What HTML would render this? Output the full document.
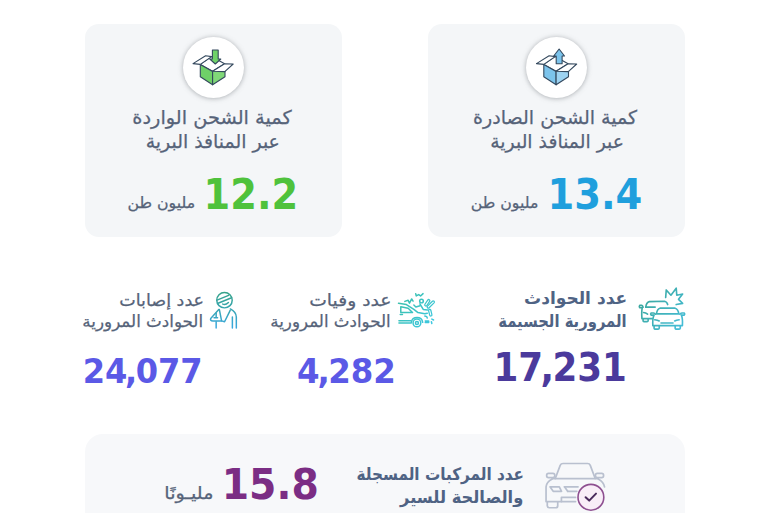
<!DOCTYPE html>
<html lang="ar" dir="ltr">
<head>
<meta charset="utf-8">
<title>إحصاءات النقل</title>
<style>
html,body{margin:0;padding:0;background:#fff;}
body{width:770px;height:513px;position:relative;overflow:hidden;font-family:"Liberation Sans","DejaVu Sans",sans-serif;}
.card{position:absolute;background:#f4f6f8;border-radius:14px;}
.c1{left:85px;top:24px;width:256.5px;height:213px;}
.c2{left:428px;top:24px;width:257px;height:213px;}
.c3{left:84.5px;top:433.5px;width:600.5px;height:120px;border-radius:18px;background:#f7f8fa;}
.circ{position:absolute;width:61px;height:61px;border-radius:50%;background:#fff;box-shadow:0 .5px 5px rgba(100,105,112,.52);}
.w4{-webkit-text-stroke:.25px currentColor;}
.t{position:absolute;left:0;top:0;white-space:nowrap;direction:rtl;transform-origin:0 0;margin:0;}
svg{position:absolute;overflow:visible;}
</style>
</head>
<body>
<div class="card c1"></div>
<div class="card c2"></div>
<div class="card c3"></div>
<div class="circ" style="left:182.6px;top:37px"></div>
<div class="circ" style="left:526px;top:37px"></div>
<svg width="770" height="513" viewBox="0 0 770 513" style="left:0;top:0">
<defs>

<linearGradient id="teal1" gradientUnits="userSpaceOnUse" x1="80" y1="100" x2="470" y2="420"><stop offset="0" stop-color="#3aa496"/><stop offset="1" stop-color="#45bfdc"/></linearGradient>
<linearGradient id="teal2" gradientUnits="userSpaceOnUse" x1="40" y1="80" x2="440" y2="440"><stop offset="0" stop-color="#3bbfa6"/><stop offset="1" stop-color="#3cc8e4"/></linearGradient>
<linearGradient id="teal3" gradientUnits="userSpaceOnUse" x1="245" y1="60" x2="245" y2="470"><stop offset="0" stop-color="#36a389"/><stop offset="1" stop-color="#3aa8e0"/></linearGradient>
</defs>
<g>
  <!-- inner of box -->
  <path d="M200.3 64.4 L211.6 56.6 L224.6 63.8 L212.6 71.2 Z" fill="#fff" stroke="#34495e" stroke-width="1.1" stroke-linejoin="round"/>
  <!-- left face -->
  <path d="M200.3 64.6 L212.6 71.4 L212.6 84.8 L200.3 76.8 Z" fill="#6fd068" stroke="#34495e" stroke-width="1.1" stroke-linejoin="round"/>
  <!-- right face -->
  <path d="M212.6 71.4 L225 64.6 L225 76.8 L212.6 84.8 Z" fill="#80d878" stroke="#34495e" stroke-width="1.1" stroke-linejoin="round"/>
  <!-- left flap -->
  <path d="M200.3 64.4 L193 63.6 L205.6 55.8 L211.6 56.6 Z" fill="#fff" stroke="#34495e" stroke-width="1.1" stroke-linejoin="round"/>
  <!-- right flap -->
  <path d="M212.6 71.2 L224.6 63.8 L233.2 64 L224.8 71.6 Z" fill="#fff" stroke="#34495e" stroke-width="1.1" stroke-linejoin="round"/>

  <path d="M212.4 50 H218.2 V59 H220.8 L215.3 64 L209.8 59 H212.4 Z" fill="#6fd268" stroke="#34495e" stroke-width="1.1" stroke-linejoin="round"/>
</g>
<g transform="translate(343.5 0)">
  <!-- inner of box -->
  <path d="M200.3 64.4 L211.6 56.6 L224.6 63.8 L212.6 71.2 Z" fill="#fff" stroke="#34495e" stroke-width="1.1" stroke-linejoin="round"/>
  <!-- left face -->
  <path d="M200.3 64.6 L212.6 71.4 L212.6 84.8 L200.3 76.8 Z" fill="#7cc4ec" stroke="#34495e" stroke-width="1.1" stroke-linejoin="round"/>
  <!-- right face -->
  <path d="M212.6 71.4 L225 64.6 L225 76.8 L212.6 84.8 Z" fill="#9dd3f2" stroke="#34495e" stroke-width="1.1" stroke-linejoin="round"/>
  <!-- left flap -->
  <path d="M200.3 64.4 L193 63.6 L205.6 55.8 L211.6 56.6 Z" fill="#fff" stroke="#34495e" stroke-width="1.1" stroke-linejoin="round"/>
  <!-- right flap -->
  <path d="M212.6 71.2 L224.6 63.8 L233.2 64 L224.8 71.6 Z" fill="#fff" stroke="#34495e" stroke-width="1.1" stroke-linejoin="round"/>

  <path d="M212.7 63.8 V56 H210.2 L215.6 49 L221 56 H218.6 V63.8 Z" fill="#7cc4ec" stroke="#34495e" stroke-width="1.1" stroke-linejoin="round"/>
</g>

<!-- crash cars icon -->
<g transform="translate(630 280) scale(0.11696)" fill="none" stroke="url(#teal1)" stroke-width="14" stroke-linecap="round" stroke-linejoin="round">
  <path d="M305 150 L310 85 L350 130 L395 70 L400 130 L450 120 L415 165 L450 200 L395 210"/>
  <path d="M135 232 Q140 190 165 185 L295 182 Q315 185 322 210"/>
  <path d="M135 232 H215"/>
  <path d="M105 236 H82 Q76 225 84 216 H100 Q108 218 112 232"/>
  <path d="M104 240 Q98 270 102 330 H190"/>
  <path d="M112 332 V350 Q114 356 122 356 H146 Q154 356 155 350 V332"/>
  <path d="M116 278 Q135 280 150 292"/>
  <path d="M226 290 Q232 246 256 241 L386 241 Q410 246 418 290 Z"/>
  <path d="M204 300 H180 Q172 290 180 282 H200 Q212 284 218 292"/>
  <path d="M440 300 H464 Q472 290 464 282 H444 Q432 284 426 292"/>
  <path d="M204 302 Q192 330 195 390 H448 Q452 330 440 302"/>
  <path d="M206 392 V412 Q208 420 216 420 H240 Q249 420 250 412 V392"/>
  <path d="M386 392 V412 Q388 420 396 420 H420 Q429 420 430 412 V392"/>
  <path d="M265 368 H368"/>
  <path d="M212 340 Q235 342 250 350"/>
  <path d="M420 340 Q397 342 382 350"/>
</g>
<!-- pedestrian hit icon -->
<g transform="translate(395 287) scale(0.0877)" fill="none" stroke="url(#teal2)" stroke-width="17" stroke-linecap="round" stroke-linejoin="round">
  <path d="M40 186 L130 200 L215 255 L262 292 L340 306 L368 300"/>
  <path d="M66 226 V290 H200 L150 242 Z"/>
  <path d="M60 313 H85"/>
  <path d="M45 385 H178"/>
  <path d="M45 410 H185"/>
  <path d="M186 402 A66 66 0 0 1 316 402"/>
  <circle cx="250" cy="410" r="44"/>
  <circle cx="250" cy="410" r="17"/>
  <path d="M340 330 L362 338 L368 354"/>
  <path d="M345 388 H384 V405 H345"/>
  <circle cx="302" cy="160" r="21"/>
  <path d="M215 205 L238 228 L286 214"/>
  <path d="M284 192 L322 256 L372 262"/>
  <g stroke-width="40"><path d="M352 204 L384 156"/><path d="M380 228 L436 172"/><path d="M396 268 L408 318"/></g>
  <g stroke="#fff" stroke-width="12"><path d="M352 204 L384 156"/><path d="M380 228 L436 172"/><path d="M396 268 L408 318"/></g>
  <path d="M112 164 L150 152 L165 184 L190 136 L206 162"/>
  <path d="M236 76 L242 102 L270 86 L292 102 L320 76"/>
  <path d="M420 366 L440 376"/>
  <path d="M415 396 L420 416"/>
</g>
<!-- injured person icon -->
<g transform="translate(203 287) scale(0.0877)" fill="none" stroke="url(#teal3)" stroke-width="17" stroke-linecap="round" stroke-linejoin="round">
  <circle cx="245" cy="150" r="88"/>
  <path d="M160 150 L292 95"/>
  <path d="M172 186 L326 122"/>
  <path d="M225 195 Q258 208 290 176"/>
  <path d="M180 256 L88 358 Q78 386 112 388 L212 388"/>
  <path d="M186 256 L212 386 L246 396 L310 266"/>
  <path d="M150 300 V346"/>
  <path d="M126 350 H166"/>
  <path d="M150 396 V468"/>
  <path d="M312 250 Q376 282 380 342 V468"/>
  <path d="M335 342 V468"/>
</g>
<!-- registered car icon -->
<g transform="translate(535 450) scale(0.12285)" fill="none" stroke="#b9c0cf" stroke-width="14" stroke-linecap="round" stroke-linejoin="round">
  <path d="M165 232 L205 125 Q212 110 228 110 H428 Q444 110 450 125 L490 232"/>
  <path d="M140 233 H515"/>
  <rect x="95" y="190" width="66" height="34" rx="15"/>
  <rect x="492" y="190" width="66" height="34" rx="15"/>
  <path d="M140 236 Q92 262 90 300 V420 H330"/>
  <path d="M515 236 Q560 262 566 300"/>
  <path d="M122 300 H198 L216 336 H148 Z"/>
  <path d="M240 300 H350"/>
  <path d="M266 336 H340"/>
  <path d="M240 300 L266 336"/>
  <path d="M215 420 V386 H330"/>
  <path d="M100 424 V455 Q102 470 116 470 H170 Q184 470 185 455 V424"/>
</g>
<circle cx="590.9" cy="497.3" r="12.9" fill="#f9eef8" stroke="#8e4f90" stroke-width="1.6"/>
<path d="M585.6 497.2 L589.2 500.6 L596 493.6" fill="none" stroke="#4a2a5c" stroke-width="2" stroke-linecap="round" stroke-linejoin="round"/>
</svg>

<div class="t w4" id="t1a" style="font:400 19px/19px 'DejaVu Sans', sans-serif;color:#566379;transform:translate(132.33px,108.10px) scaleX(1.0177)">كمية الشحن الواردة</div>
<div class="t w4" id="t1b" style="font:400 19px/19px 'DejaVu Sans', sans-serif;color:#566379;transform:translate(145.63px,132.00px) scaleX(0.9943)">عبر المنافذ البرية</div>
<div class="t w4" id="t2a" style="font:400 19px/19px 'DejaVu Sans', sans-serif;color:#566379;transform:translate(473.05px,108.10px) scaleX(1.0025)">كمية الشحن الصادرة</div>
<div class="t w4" id="t2b" style="font:400 19px/19px 'DejaVu Sans', sans-serif;color:#566379;transform:translate(490.24px,132.00px) scaleX(0.9905)">عبر المنافذ البرية</div>
<div class="t" id="n1" style="font:700 43.5px/43.5px 'DejaVu Sans', sans-serif;color:#4fc23c;transform:translate(203.60px,172.50px) scaleX(0.8821)">12.2</div>
<div class="t w4" id="u1" style="font:400 15.5px/15.5px 'DejaVu Sans', sans-serif;color:#566379;transform:translate(127.45px,196.00px) scaleX(1.0179)">مليون طن</div>
<div class="t" id="n2" style="font:700 43.5px/43.5px 'DejaVu Sans', sans-serif;color:#1f9fdd;transform:translate(547.49px,172.50px) scaleX(0.8836)">13.4</div>
<div class="t w4" id="u2" style="font:400 15.5px/15.5px 'DejaVu Sans', sans-serif;color:#566379;transform:translate(470.65px,196.00px) scaleX(1.0179)">مليون طن</div>
<div class="t" id="h1a" style="font:700 17px/17px 'DejaVu Sans', sans-serif;color:#4f6384;transform:translate(524.07px,289.50px) scaleX(1.0020)">عدد الحوادث</div>
<div class="t" id="h1b" style="font:700 17px/17px 'DejaVu Sans', sans-serif;color:#4f6384;transform:translate(498.22px,312.80px) scaleX(0.8703)">المرورية الجسيمة</div>
<div class="t" id="n3" style="font:700 39px/39px 'DejaVu Sans', sans-serif;color:#4b3a9c;transform:translate(493.40px,347.50px) scaleX(0.9153)">17<span style="margin:0 -.05em 0 -.07em">,</span>231</div>
<div class="t w4" id="h2a" style="font:400 16.5px/16.5px 'DejaVu Sans', sans-serif;color:#566379;transform:translate(309.16px,293.10px) scaleX(1.1363)">عدد وفيات</div>
<div class="t w4" id="h2b" style="font:400 16.5px/16.5px 'DejaVu Sans', sans-serif;color:#566379;transform:translate(270.26px,314.30px) scaleX(1.0112)">الحوادث المرورية</div>
<div class="t" id="n4" style="font:700 34.3px/34.3px 'DejaVu Sans', sans-serif;color:#5b59e6;transform:translate(297.08px,353.90px) scaleX(0.9462)">4<span style="margin:0 -.05em 0 -.07em">,</span>282</div>
<div class="t w4" id="h3a" style="font:400 16.5px/16.5px 'DejaVu Sans', sans-serif;color:#566379;transform:translate(119.24px,293.10px) scaleX(1.0615)">عدد إصابات</div>
<div class="t w4" id="h3b" style="font:400 16.5px/16.5px 'DejaVu Sans', sans-serif;color:#566379;transform:translate(82.36px,314.30px) scaleX(1.0137)">الحوادث المرورية</div>
<div class="t" id="n5" style="font:700 34.3px/34.3px 'DejaVu Sans', sans-serif;color:#5b59e6;transform:translate(82.63px,353.90px) scaleX(0.9360)">24<span style="margin:0 -.05em 0 -.07em">,</span>077</div>
<div class="t" id="b1a" style="font:700 17px/17px 'DejaVu Sans', sans-serif;color:#4f6384;transform:translate(356.49px,465.90px) scaleX(0.8962)">عدد المركبات المسجلة</div>
<div class="t" id="b1b" style="font:700 17px/17px 'DejaVu Sans', sans-serif;color:#4f6384;transform:translate(400.02px,489.00px) scaleX(0.9558)">والصالحة للسير</div>
<div class="t" id="n6" style="font:700 42.8px/42.8px 'DejaVu Sans', sans-serif;color:#7b2d84;transform:translate(221.72px,463.30px) scaleX(0.9194)">15.8</div>
<div class="t w4" id="u3" style="font:400 17px/17px 'DejaVu Sans', sans-serif;color:#566379;transform:translate(164.37px,485.30px) scaleX(1.1259)">مليـونًا</div>
</body>
</html>
